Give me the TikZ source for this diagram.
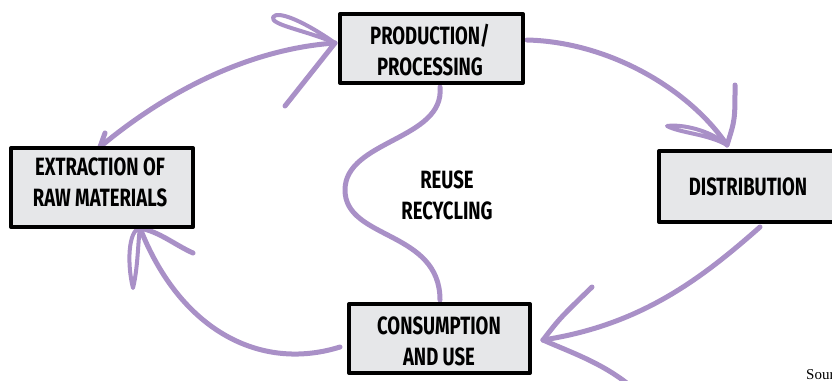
\documentclass[tikz,border=0pt]{standalone}
\usepackage{fontspec}
\setmainfont{Fira Sans}[FakeStretch=0.74]
\newfontfamily\srcfont{Liberation Serif}
\definecolor{cyc}{RGB}{169,144,199}
\definecolor{boxgray}{RGB}{230,231,233}

\tikzset{
  stagebox/.style={draw=black, fill=boxgray, line width=4pt, inner sep=0pt, line join=round},
  stagetext/.style={font=\fontsize{25}{31}\selectfont\bfseries, align=center, inner sep=0pt},
  flow/.style={draw=cyc, line width=5pt, line cap=round, line join=round},
  barbloop/.style={draw=cyc, line width=4pt, line cap=round, line join=round},
}

\begin{document}
\begin{tikzpicture}[x=1pt,y=-1pt]
  \useasboundingbox (0,0) rectangle (832,380);
  \clip (0,0) rectangle (832,380);

  % arrow tips and free ends
  \coordinate (exttip)  at (100,147);
  \coordinate (prodtip) at (335,43);
  \coordinate (prodout) at (527,40);
  \coordinate (disttip) at (727,145);
  \coordinate (distout) at (760,227);
  \coordinate (constip) at (543,340);
  \coordinate (consout) at (340,347);
  \coordinate (rawtip)  at (140,228);
  \coordinate (loopa)   at (440,87);
  \coordinate (loopb)   at (440,300);

  % extraction -- production
  \draw[flow] (exttip) .. controls (150,105) and (235,50) .. (prodtip);
  \draw[flow] (exttip) -- (105,133);
  \draw[flow] (prodtip) -- (285,106);
  \draw[barbloop] (prodtip) .. controls (305,22) and (278,10) .. (273,17)
                  .. controls (270,25) and (305,30) .. (prodtip);

  % production -> distribution
  \draw[flow] (prodout) .. controls (610,42) and (690,90) .. (disttip);
  \draw[flow] (disttip) .. controls (735,120) .. (735,85);
  \draw[barbloop] (disttip) .. controls (710,130) and (682,124) .. (667,126)
                  .. controls (680,133) and (708,134) .. (disttip);

  % distribution -> consumption
  \draw[flow] (distout) .. controls (700,280) and (640,325) .. (constip);
  \draw[flow] (constip) .. controls (560,318) .. (592,287);
  \draw[flow] (constip) .. controls (570,352) and (600,362) .. (628,384);

  % consumption -> extraction
  \draw[flow] (consout) .. controls (260,372) and (180,330) .. (rawtip);
  \draw[flow] (rawtip) .. controls (160,232) and (175,245) .. (193,253);
  \draw[barbloop] (rawtip) .. controls (128,230) and (127,265) .. (133,288)
                  .. controls (138,268) and (138,240) .. (rawtip);

  % reuse / recycling loop
  \draw[flow] (loopa) .. controls (445,140) and (345,140) .. (345,190)
              .. controls (345,240) and (440,230) .. (loopb);

  % stage boxes
  \node[stagebox, minimum width=183pt, minimum height=69pt] (prod) at (431.5,48.5) {};
  \node[stagebox, minimum width=182pt, minimum height=79pt] (ext)  at (102,187.5) {};
  \node[stagebox, minimum width=200pt, minimum height=71pt] (dist) at (759,186.5) {};
  \node[stagebox, minimum width=181pt, minimum height=69pt] (cons) at (439.5,338.5) {};

  % stage labels
  \node[stagetext] (prodtxt) at (430,50)  {PRODUCTION/\\PROCESSING};
  \node[stagetext] (exttxt)  at (100,182) {EXTRACTION OF\\RAW MATERIALS};
  \node[stagetext] (disttxt) at (748,187) {DISTRIBUTION};
  \node[stagetext] (constxt) at (439,341) {CONSUMPTION\\AND USE};
  \node[stagetext] (reuse)   at (447,195) {REUSE\\RECYCLING};

  % source note, running off the lower right edge
  \node[font=\srcfont\fontsize{15}{17}\selectfont, anchor=north west, inner sep=0pt]
       (src) at (806,369) {Source};
\end{tikzpicture}
\end{document}
